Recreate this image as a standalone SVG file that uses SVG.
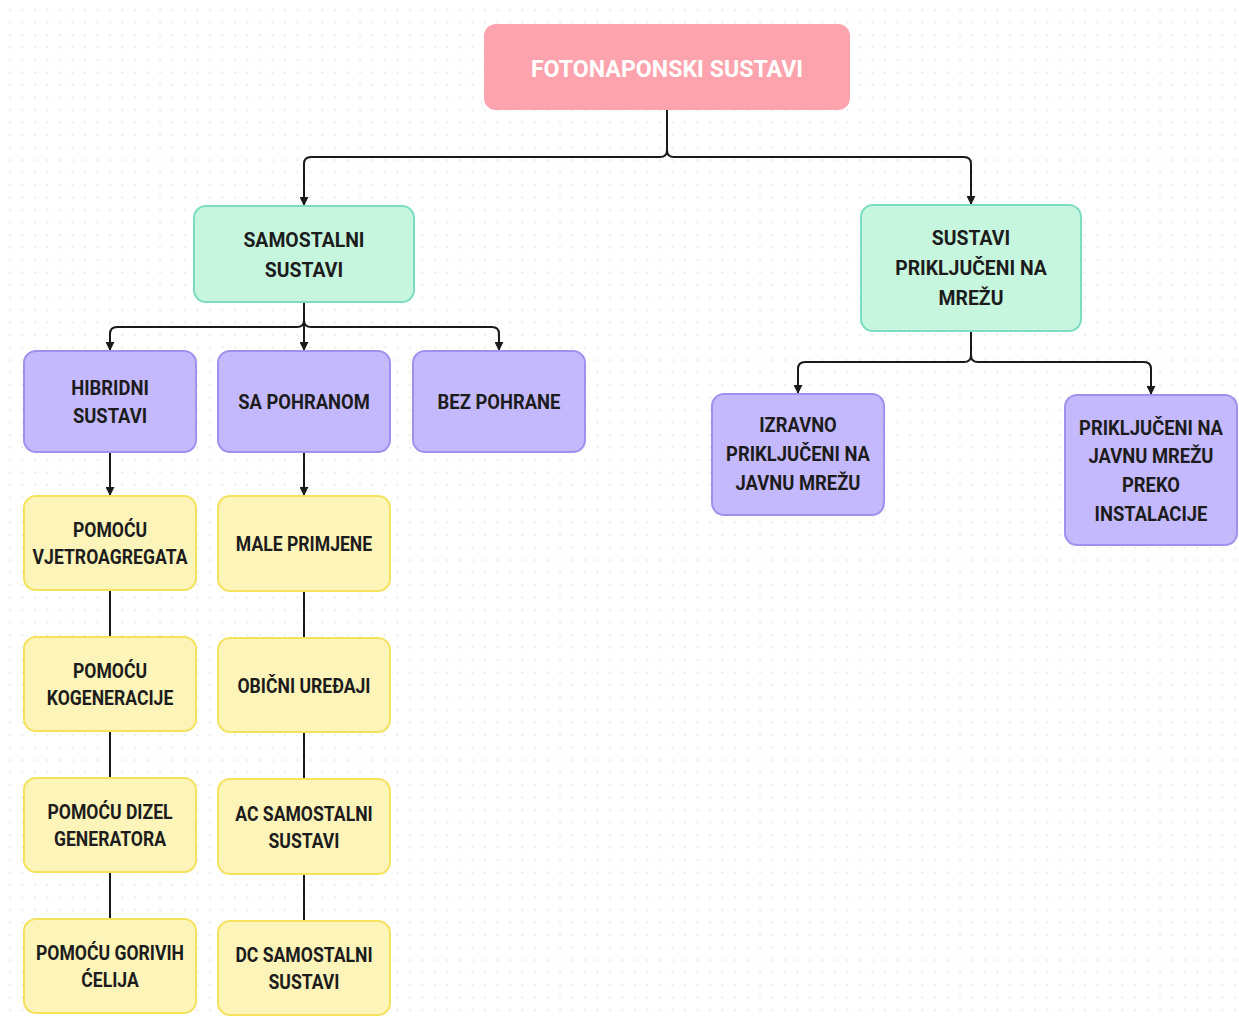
<svg xmlns="http://www.w3.org/2000/svg" width="1239" height="1025" viewBox="0 0 1239 1025">
<defs>
<pattern id="dots" x="4" y="4" width="12.5" height="12.5" patternUnits="userSpaceOnUse">
<circle cx="6" cy="6" r="1" fill="#e2e2e2"/>
</pattern>
<marker id="arr" viewBox="0 0 10 10" refX="9" refY="5" markerWidth="4.5" markerHeight="4.5" orient="auto" markerUnits="strokeWidth">
<path d="M0,0 L10,5 L0,10 z" fill="#1a1a1a"/>
</marker>
</defs>
<style>
.t{font-family:Roboto,"Liberation Sans",sans-serif;font-weight:700;font-size:20px;fill:#1c1c1c;text-anchor:middle;transform-box:fill-box;transform-origin:center;}
.gt{transform:scaleX(0.97);}
.pt{transform:scaleX(0.92);}
.yt{transform:scaleX(0.88);}
.root{fill:#fca3ae;}
.rt{font-family:Roboto,"Liberation Sans",sans-serif;font-weight:700;font-size:24px;fill:#ffffff;text-anchor:middle;transform-box:fill-box;transform-origin:center;transform:scaleX(0.965);}
.g{fill:#c7f6de;stroke:#7ddcc2;stroke-width:2;}
.p{fill:#c4b9fd;stroke:#a290ef;stroke-width:2;}
.y{fill:#fdf4b9;stroke:#f4e25c;stroke-width:2;}
.c{fill:none;stroke:#1a1a1a;stroke-width:2;}
</style>
<rect width="1239" height="1025" fill="#ffffff"/>
<rect x="8" y="8" width="1231" height="1012" fill="url(#dots)"/>

<g id="connectors">
<path class="c" d="M667,110 V150 Q667,157 660,157 H311 Q304,157 304,164 V205" marker-end="url(#arr)"/>
<path class="c" d="M667,110 V150 Q667,157 674,157 H964 Q971,157 971,164 V204" marker-end="url(#arr)"/>
<path class="c" d="M304,302 V320 Q304,327 297,327 H117 Q110,327 110,334 V350" marker-end="url(#arr)"/>
<path class="c" d="M304,302 V350" marker-end="url(#arr)"/>
<path class="c" d="M304,302 V320 Q304,327 311,327 H492 Q499,327 499,334 V350" marker-end="url(#arr)"/>
<path class="c" d="M971,331 V355 Q971,362 964,362 H805 Q798,362 798,369 V393" marker-end="url(#arr)"/>
<path class="c" d="M971,331 V355 Q971,362 978,362 H1144 Q1151,362 1151,369 V394" marker-end="url(#arr)"/>
<path class="c" d="M110,452 V495" marker-end="url(#arr)"/>
<path class="c" d="M304,452 V495" marker-end="url(#arr)"/>
<path class="c" d="M110,590 V637 M110,731 V778 M110,872 V919"/>
<path class="c" d="M304,591 V638 M304,732 V779 M304,874 V921"/>
</g>

<g id="root">
<rect class="root" x="484" y="24" width="366" height="86" rx="12"/>
<text class="rt" x="667" y="77">FOTONAPONSKI SUSTAVI</text>
</g>

<g id="samostalni">
<rect class="g" x="194" y="206" width="220" height="96" rx="12"/>
<text class="t gt" x="304" y="247">SAMOSTALNI</text>
<text class="t gt" x="304" y="277">SUSTAVI</text>
</g>

<g id="prikljuceni">
<rect class="g" x="861" y="205" width="220" height="126" rx="12"/>
<text class="t gt" x="971" y="245">SUSTAVI</text>
<text class="t gt" x="971" y="275">PRIKLJUČENI NA</text>
<text class="t gt" x="971" y="305">MREŽU</text>
</g>

<g id="hibridni">
<rect class="p" x="24" y="351" width="172" height="101" rx="12"/>
<text class="t pt" x="110" y="395">HIBRIDNI</text>
<text class="t pt" x="110" y="423">SUSTAVI</text>
</g>

<g id="sapohranom">
<rect class="p" x="218" y="351" width="172" height="101" rx="12"/>
<text class="t pt" x="304" y="409">SA POHRANOM</text>
</g>

<g id="bezpohrane">
<rect class="p" x="413" y="351" width="172" height="101" rx="12"/>
<text class="t pt" x="499" y="409">BEZ POHRANE</text>
</g>

<g id="izravno">
<rect class="p" x="712" y="394" width="172" height="121" rx="12"/>
<text class="t pt" x="798" y="432">IZRAVNO</text>
<text class="t pt" x="798" y="461">PRIKLJUČENI NA</text>
<text class="t pt" x="798" y="490">JAVNU MREŽU</text>
</g>

<g id="prekoinstalacije">
<rect class="p" x="1065" y="395" width="172" height="150" rx="12"/>
<text class="t pt" x="1151" y="435">PRIKLJUČENI NA</text>
<text class="t pt" x="1151" y="463">JAVNU MREŽU</text>
<text class="t pt" x="1151" y="492">PREKO</text>
<text class="t pt" x="1151" y="521">INSTALACIJE</text>
</g>

<g id="vjetro">
<rect class="y" x="24" y="496" width="172" height="94" rx="12"/>
<text class="t yt" x="110" y="537">POMOĆU</text>
<text class="t yt" x="110" y="564">VJETROAGREGATA</text>
</g>

<g id="kogeneracije">
<rect class="y" x="24" y="637" width="172" height="94" rx="12"/>
<text class="t yt" x="110" y="678">POMOĆU</text>
<text class="t yt" x="110" y="705">KOGENERACIJE</text>
</g>

<g id="dizel">
<rect class="y" x="24" y="778" width="172" height="94" rx="12"/>
<text class="t yt" x="110" y="819">POMOĆU DIZEL</text>
<text class="t yt" x="110" y="846">GENERATORA</text>
</g>

<g id="gorive">
<rect class="y" x="24" y="919" width="172" height="94" rx="12"/>
<text class="t yt" x="110" y="960">POMOĆU GORIVIH</text>
<text class="t yt" x="110" y="987">ĆELIJA</text>
</g>

<g id="male">
<rect class="y" x="218" y="496" width="172" height="95" rx="12"/>
<text class="t yt" x="304" y="551">MALE PRIMJENE</text>
</g>

<g id="obicni">
<rect class="y" x="218" y="638" width="172" height="94" rx="12"/>
<text class="t yt" x="304" y="693">OBIČNI UREĐAJI</text>
</g>

<g id="ac">
<rect class="y" x="218" y="779" width="172" height="95" rx="12"/>
<text class="t yt" x="304" y="821">AC SAMOSTALNI</text>
<text class="t yt" x="304" y="848">SUSTAVI</text>
</g>

<g id="dc">
<rect class="y" x="218" y="921" width="172" height="94" rx="12"/>
<text class="t yt" x="304" y="962">DC SAMOSTALNI</text>
<text class="t yt" x="304" y="989">SUSTAVI</text>
</g>
</svg>
